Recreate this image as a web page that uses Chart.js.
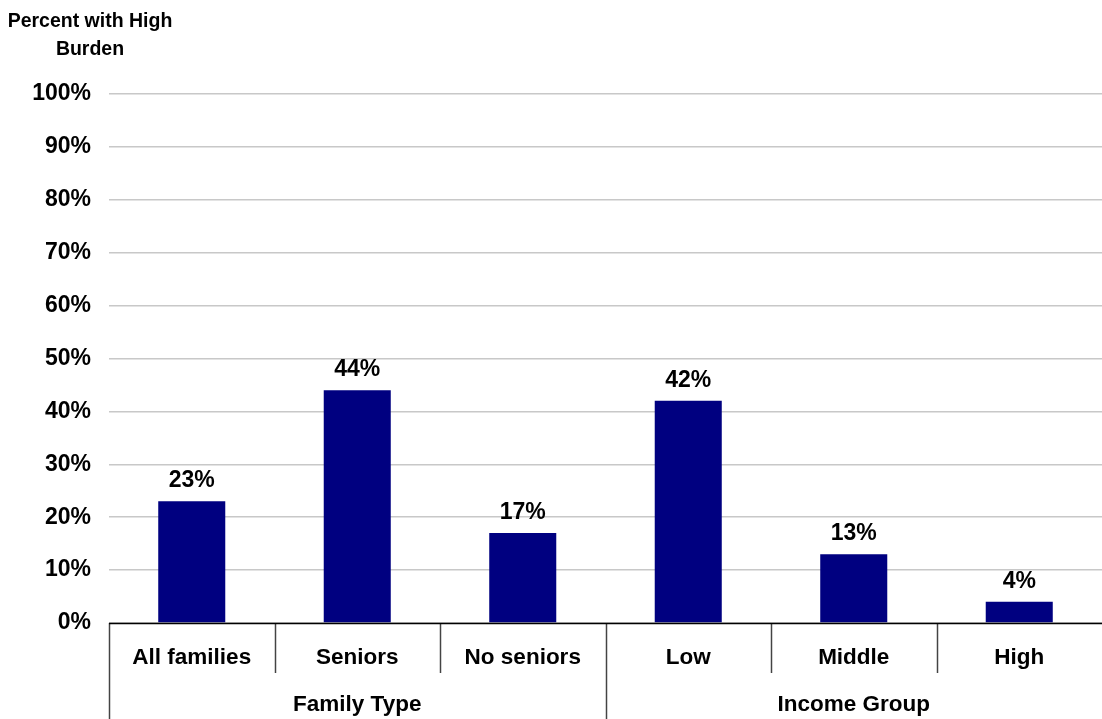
<!DOCTYPE html>
<html>
<head>
<meta charset="utf-8">
<script src="https://cdn.jsdelivr.net/npm/chart.js@4/dist/chart.umd.min.js"></script>
<style>
  html, body { margin: 0; padding: 0; background: #fff; }
  #wrap { position: relative; width: 1102px; height: 719px; }
</style>
</head>
<body>
<div id="wrap"><canvas id="chart"></canvas></div>
<script>
const categories = ["All families", "Seniors", "No seniors", "Low", "Middle", "High"];
const burden = [23, 44, 17, 42, 13, 4];
const groups = [
  { label: "Family Type", from: 0, to: 2 },
  { label: "Income Group", from: 3, to: 5 }
];
const yTicks = [0, 10, 20, 30, 40, 50, 60, 70, 80, 90, 100];

const FONT = "'Liberation Sans', Arial, sans-serif";

// value labels above the bars
const barLabels = {
  id: "barLabels",
  afterDatasetsDraw(chart) {
    const ctx = chart.ctx;
    const meta = chart.getDatasetMeta(0);
    ctx.save();
    ctx.font = "bold 23px " + FONT;
    ctx.fillStyle = "#000";
    ctx.textAlign = "center";
    ctx.textBaseline = "alphabetic";
    meta.data.forEach((bar, i) => {
      ctx.fillText(burden[i] + "%", bar.x, bar.y - 14);
    });
    ctx.restore();
  }
};

// two-level category axis: separators and group names
const groupAxis = {
  id: "groupAxis",
  afterDraw(chart) {
    const ctx = chart.ctx;
    const x = chart.scales.x;
    const area = chart.chartArea;
    const H = chart.height;
    const step = (area.right - area.left) / categories.length;
    ctx.save();
    ctx.strokeStyle = "#444";
    ctx.lineWidth = 1.5;
    for (let i = 1; i < categories.length; i++) {
      const gx = Math.round(area.left + step * i) + 0.5;
      const isGroupEdge = groups.some(g => g.from === i);
      ctx.beginPath();
      ctx.moveTo(gx, area.bottom);
      ctx.lineTo(gx, isGroupEdge ? H : area.bottom + 50);
      ctx.stroke();
    }
    ctx.beginPath();
    ctx.moveTo(area.left + 0.5, area.bottom);
    ctx.lineTo(area.left + 0.5, H);
    ctx.stroke();

    ctx.strokeStyle = "#000";
    ctx.lineWidth = 1.5;
    ctx.beginPath();
    ctx.moveTo(area.left, area.bottom + 0.5);
    ctx.lineTo(area.right, area.bottom + 0.5);
    ctx.stroke();

    ctx.font = "bold 22.5px " + FONT;
    ctx.fillStyle = "#000";
    ctx.textAlign = "center";
    ctx.textBaseline = "middle";
    groups.forEach(g => {
      const cx = (x.getPixelForValue(g.from) + x.getPixelForValue(g.to)) / 2;
      ctx.fillText(g.label, cx, area.bottom + 82);
    });

    // axis title, top left
    ctx.font = "bold 19.5px " + FONT;
    ctx.fillText("Percent with High", 90, 22);
    ctx.fillText("Burden", 90, 50);
    ctx.restore();
  }
};

new Chart(document.getElementById("chart"), {
  type: "bar",
  data: {
    labels: categories,
    datasets: [{
      data: burden,
      backgroundColor: "#000080",
      barPercentage: 0.405,
      categoryPercentage: 1
    }]
  },
  options: {
    responsive: true,
    maintainAspectRatio: false,
    animation: false,
    layout: { padding: { top: 94, right: 0, left: 0, bottom: 0 } },
    plugins: { legend: { display: false }, tooltip: { enabled: false } },
    scales: {
      x: {
        grid: { display: false, drawTicks: false },
        border: { display: false },
        ticks: {
          color: "#000",
          font: { family: FONT, size: 22.5, weight: "bold" },
          padding: 21,
          maxRotation: 0,
          autoSkip: false
        },
        afterFit(scale) { scale.height = 96; }
      },
      y: {
        min: 0,
        max: 100,
        afterBuildTicks(scale) { scale.ticks = yTicks.map(v => ({ value: v })); },
        grid: { color: "#c8c8c8", lineWidth: 1.5, drawTicks: false },
        border: { display: false },
        ticks: {
          color: "#000",
          padding: 18,
          font: { family: FONT, size: 23, weight: "bold" },
          callback: v => v + "%"
        },
        afterFit(scale) { scale.width = 109; }
      }
    }
  },
  plugins: [barLabels, groupAxis]
});
</script>
</body>
</html>
